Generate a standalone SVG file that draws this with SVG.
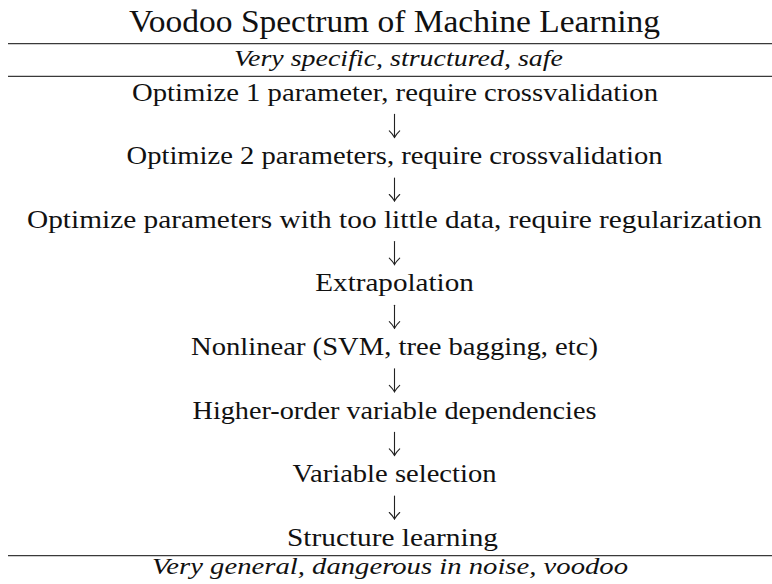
<svg xmlns="http://www.w3.org/2000/svg" width="772" height="584" viewBox="0 0 772 584">
  <style>
    .rule { stroke: #3a3a3a; stroke-width: 1.3; }
    .arrow { stroke: #222; stroke-width: 1.1; fill: none; stroke-linecap: round; }
  </style>
  <defs>
    <!-- a small downward arrow, tip at the origin -->
    <g id="down">
      <line class="arrow" x1="0" y1="-23" x2="0" y2="0"/>
      <path class="arrow" d="M -5.2 -6.5 Q -2 -3.5 0 0 Q 2 -3.5 5.2 -6.5"/>
    </g>
  </defs>
  <rect width="772" height="584" fill="#fff"/>

  <g font-family="Liberation Serif, Times New Roman, serif" fill="#111">
    <!-- heading -->
    <g id="heading" font-size="30.5">
      <text x="129" y="31.7" textLength="531" lengthAdjust="spacingAndGlyphs">Voodoo Spectrum of Machine Learning</text>
    </g>

    <g id="safe-end" font-size="23.5" font-style="italic">
      <text x="234" y="66" textLength="329" lengthAdjust="spacingAndGlyphs">Very specific, structured, safe</text>
    </g>

    <g font-size="26">
      <g id="opt1">
        <text x="132" y="100.5" textLength="526" lengthAdjust="spacingAndGlyphs">Optimize 1 parameter, require crossvalidation</text>
      </g>
      <g id="opt2">
        <text x="126.5" y="164.1" textLength="536" lengthAdjust="spacingAndGlyphs">Optimize 2 parameters, require crossvalidation</text>
      </g>
      <g id="regularization">
        <text x="27" y="227.7" textLength="735" lengthAdjust="spacingAndGlyphs">Optimize parameters with too little data, require regularization</text>
      </g>
      <g id="extrapolation">
        <text x="315.3" y="291.3" textLength="158.5" lengthAdjust="spacingAndGlyphs">Extrapolation</text>
      </g>
      <g id="nonlinear">
        <text x="191" y="354.9" textLength="407" lengthAdjust="spacingAndGlyphs">Nonlinear (SVM, tree bagging, etc)</text>
      </g>
      <g id="higher-order">
        <text x="192.5" y="418.5" textLength="404" lengthAdjust="spacingAndGlyphs">Higher-order variable dependencies</text>
      </g>
      <g id="variable-selection">
        <text x="292.5" y="482.1" textLength="204" lengthAdjust="spacingAndGlyphs">Variable selection</text>
      </g>
      <g id="structure-learning">
        <text x="287" y="545.7" textLength="211" lengthAdjust="spacingAndGlyphs">Structure learning</text>
      </g>
    </g>

    <g id="voodoo-end" font-size="23" font-style="italic">
      <text x="152" y="573.5" textLength="476" lengthAdjust="spacingAndGlyphs">Very general, dangerous in noise, voodoo</text>
    </g>
  </g>

  <!-- table rules -->
  <g id="rules">
    <line class="rule" x1="8" y1="43.7" x2="772" y2="43.7"/>
    <line class="rule" x1="8" y1="76.3" x2="772" y2="76.3"/>
    <line class="rule" x1="8" y1="555.7" x2="772" y2="555.7"/>
  </g>

  <!-- connectors between consecutive rows -->
  <g id="connectors">
    <use href="#down" x="394.5" y="137.4"/>
    <use href="#down" x="394.5" y="201"/>
    <use href="#down" x="394.5" y="264.6"/>
    <use href="#down" x="394.5" y="328.2"/>
    <use href="#down" x="394.5" y="391.8"/>
    <use href="#down" x="394.5" y="455.4"/>
    <use href="#down" x="394.5" y="519"/>
  </g>
</svg>
